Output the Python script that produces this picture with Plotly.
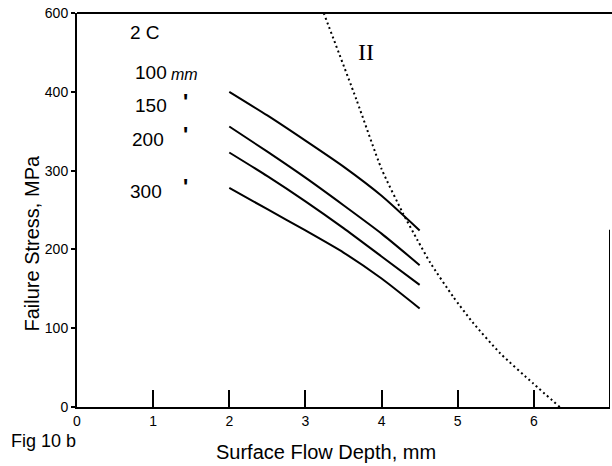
import plotly.graph_objects as go

# ---- data ----
x_curve = [2.0, 2.5, 3.0, 3.5, 4.0, 4.5]
s_100 = [400, 370, 338, 305, 268, 224]
s_150 = [356, 324, 291, 256, 220, 180]
s_200 = [323, 293, 261, 227, 191, 155]
s_300 = [278, 251, 224, 196, 163, 125]

x_limit = [3.24, 3.67, 4.0, 4.28, 4.47, 4.64, 4.94, 5.2, 5.56, 5.99, 6.34]
y_limit = [500, 390, 302, 246, 212, 183, 140, 107, 68, 30, 0]

x_tickvals = [0, 1, 2, 3, 4, 5, 6, 7]
x_ticktext = ["0", "1", "2", "3", "4", "5", "6", "7"]
y_tickvals = [0, 100, 200, 300, 400, 500]
y_ticktext = ["0", "100", "200", "300", "400", "600"]

size_labels = ["150", "200", "300"]

FONT = "Liberation Sans, Arial, sans-serif"

fig = go.Figure()
for ys in [s_100, s_150, s_200, s_300]:
    fig.add_trace(go.Scatter(x=x_curve, y=ys, mode="lines",
                             line=dict(color="black", width=2, shape="spline", smoothing=0.6),
                             showlegend=False, hoverinfo="skip"))
fig.add_trace(go.Scatter(x=x_limit, y=y_limit, mode="lines",
                         line=dict(color="black", width=2, dash="2px,3px",
                                   shape="spline", smoothing=0.6),
                         showlegend=False, hoverinfo="skip"))

ann = []
ann.append(dict(x=0.89, y=475, text="2 C", showarrow=False, xanchor="center", yanchor="middle",
                font=dict(family=FONT, size=19, color="black")))
ann.append(dict(x=0.735, y=424, text="100", showarrow=False, xanchor="left", yanchor="middle",
                font=dict(family=FONT, size=19, color="black")))
ann.append(dict(x=1.21, y=422, text="<i>mm</i>", showarrow=False, xanchor="left", yanchor="middle",
                font=dict(family=FONT, size=16, color="black")))
label_y = [383, 340, 273]
label_x = [0.735, 0.70, 0.67]
dot_y = [388, 346, 280]
for lab, lx, ly, dy in zip(size_labels, label_x, label_y, dot_y):
    ann.append(dict(x=lx, y=ly, text=lab, showarrow=False, xanchor="left", yanchor="middle",
                    font=dict(family=FONT, size=19, color="black")))
    ann.append(dict(x=1.42, y=dy, text="<b>'</b>", showarrow=False, xanchor="center", yanchor="middle",
                    font=dict(family=FONT, size=22, color="black")))
ann.append(dict(x=3.80, y=450, text="II", showarrow=False, xanchor="center", yanchor="middle",
                font=dict(family="Liberation Serif, Times New Roman, serif", size=24, color="black")))
ann.append(dict(xref="paper", yref="paper", x=-0.0844, y=0.415, text="Failure Stress, MPa",
                textangle=-90, showarrow=False, xanchor="center", yanchor="middle",
                font=dict(family=FONT, size=20, color="black")))
ann.append(dict(xref="paper", yref="paper", x=0.467, y=-0.114, text="Surface Flow Depth, mm",
                showarrow=False, xanchor="center", yanchor="middle",
                font=dict(family=FONT, size=20, color="black")))
ann.append(dict(xref="paper", yref="paper", x=-0.062, y=-0.086, text="Fig 10 b",
                showarrow=False, xanchor="center", yanchor="middle",
                font=dict(family=FONT, size=18, color="black")))

shapes = [
    dict(type="line", xref="paper", yref="paper", x0=0, x1=1.01, y0=1, y1=1,
         line=dict(color="black", width=2)),
    dict(type="line", xref="x", yref="y", x0=7, x1=7, y0=0, y1=225,
         line=dict(color="black", width=2)),
]

fig.update_layout(
    width=612, height=466,
    margin=dict(l=77, r=2, t=13, b=59),
    paper_bgcolor="white", plot_bgcolor="white",
    annotations=ann, shapes=shapes,
    showlegend=False,
)
fig.update_xaxes(range=[0, 7], tickvals=x_tickvals, ticktext=x_ticktext,
                 ticks="inside", ticklen=17, tickwidth=1.5, tickcolor="black",
                 showline=True, linecolor="black", linewidth=2,
                 showgrid=False, zeroline=False,
                 tickfont=dict(family=FONT, size=14, color="black"))
fig.update_yaxes(range=[0, 500], tickvals=y_tickvals, ticktext=y_ticktext,
                 ticks="outside", ticklen=4, tickwidth=1.5, tickcolor="black",
                 showline=True, linecolor="black", linewidth=2,
                 showgrid=False, zeroline=False, ticklabelstandoff=0,
                 tickfont=dict(family=FONT, size=14, color="black"))

fig.write_html("out.html")
